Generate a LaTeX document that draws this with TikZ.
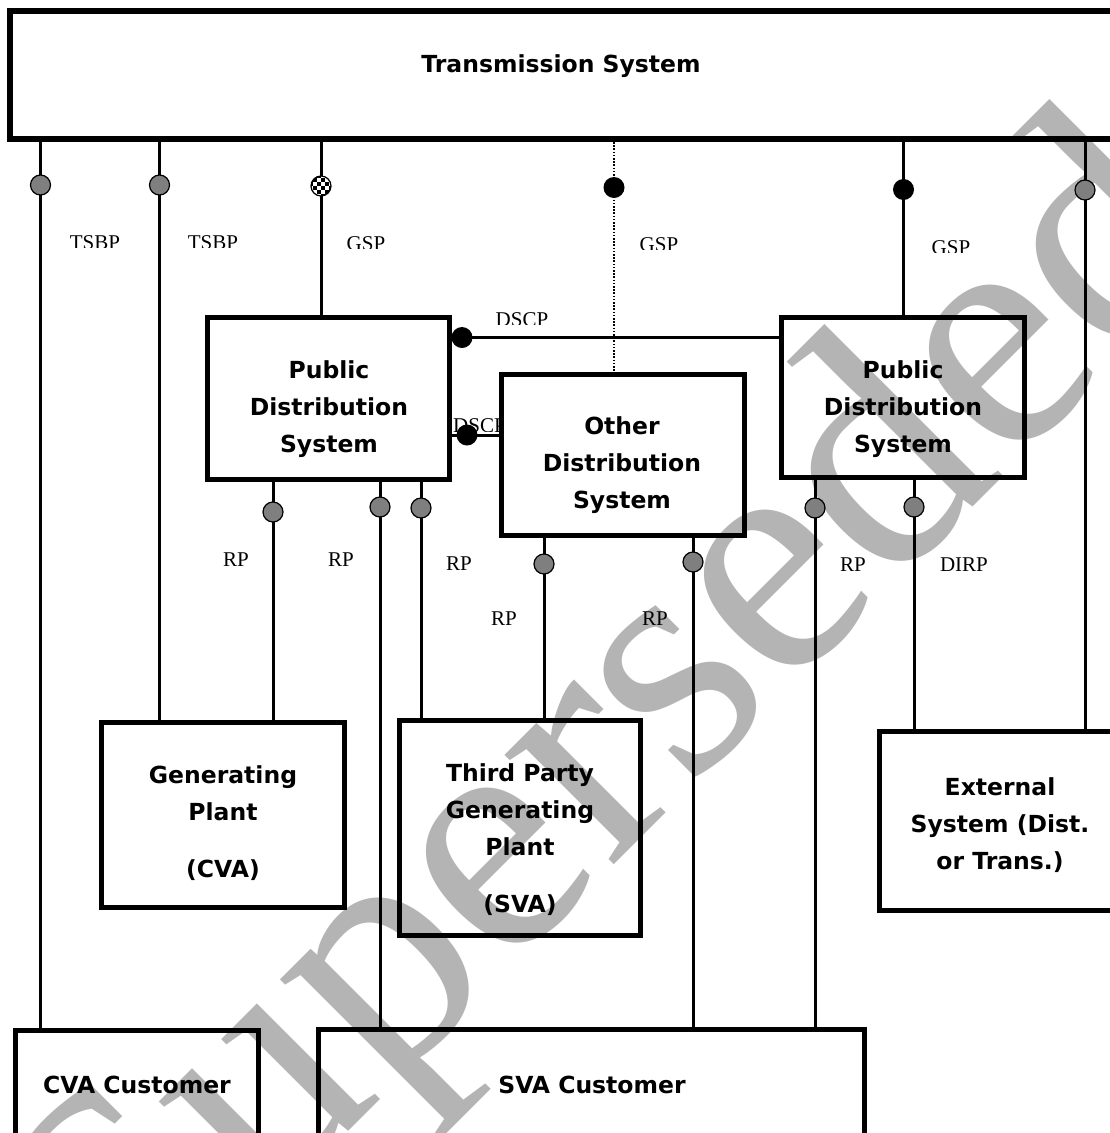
\documentclass[tikz,border=0pt]{standalone}
\usepackage{fontspec}
\setmainfont{Liberation Serif}
\newfontfamily\boxfont{DejaVu Sans}
\definecolor{wmgray}{HTML}{B4B4B4}
\definecolor{dotgray}{HTML}{7F7F7F}
\tikzset{
  box/.style 2 args={draw, line width=5pt, minimum width=#1, minimum height=#2, inner sep=0pt},
  btxt/.style={font=\boxfont\bfseries\fontsize{23.5}{37}\selectfont, align=center, inner sep=0pt},
  lbl/.style={font=\fontsize{21}{21}\selectfont, inner sep=0pt},
  conn/.style={line width=3pt},
  dotconn/.style={line width=1.6pt, dash pattern=on 1.6pt off 1.6pt},
  gdot/.style={circle, draw, line width=1.2pt, fill=dotgray, minimum size=20pt, inner sep=0pt},
  bdot/.style={circle, fill=black, minimum size=21pt, inner sep=0pt},
}
\newcommand\cutlbl[4]{%
  \begin{scope}
    \clip ({#3-45},{#4-6}) rectangle ({#3+45},{#4+12});
    \node[lbl, anchor=north] (#1) at (#3,#4) {#2};
  \end{scope}}
\begin{document}
\begin{tikzpicture}[x=1pt,y=-1pt]
\useasboundingbox (0,0) rectangle (1109,1133);
% watermark
\node[text=wmgray, rotate=45, font=\fontsize{337}{337}\selectfont, inner sep=0pt] (wm) at (625,740) {Superseded};

% boxes
\node[box={1112pt}{128pt}, line width=6pt] (ts) at (566,75) {};
\node[box={242pt}{162pt}] (pdsL) at (328.5,398.5) {};
\node[box={243pt}{160pt}] (pdsR) at (903,397.5) {};
\node[box={243pt}{161.5pt}] (ods) at (622.5,454.75) {};
\node[box={243pt}{185pt}] (gen) at (223,814.5) {};
\node[box={241pt}{215pt}] (tpg) at (520,828) {};
\node[box={246pt}{179pt}] (ext) at (1002,820.5) {};
\node[box={243pt}{119.5pt}] (cvac) at (137,1090.25) {};
\node[box={546pt}{120.5pt}] (svac) at (591.5,1089.75) {};

% box texts
\node[btxt] (tsT) at (561,66) {Transmission System};
\node[btxt] (pdsLT) at (329,409) {Public\\Distribution\\System};
\node[btxt] (pdsRT) at (903,409) {Public\\Distribution\\System};
\node[btxt] (odsT) at (622,465) {Other\\Distribution\\System};
\node[btxt] (genT) at (223,823) {Generating\\Plant\\[20pt](CVA)};
\node[btxt] (tpgT) at (520,840) {Third Party\\Generating\\Plant\\[20pt](SVA)};
\node[btxt] (extT) at (1000,825) {External\\System (Dist.\\or Trans.)};
\node[btxt] (cvacT) at (137,1085) {CVA Customer};
\node[btxt] (svacT) at (592,1084.5) {SVA Customer};

% connection points
\coordinate (p1) at (40.5,185);
\coordinate (p2) at (159.5,185);
\coordinate (p3) at (321,186);
\coordinate (p4) at (614,187.5);
\coordinate (p5) at (903.5,189.5);
\coordinate (p6) at (1085,190);
\coordinate (q1) at (273,512);
\coordinate (q2) at (380,507);
\coordinate (q3) at (421,508);
\coordinate (q4) at (544,564);
\coordinate (q5) at (693,562);
\coordinate (q6) at (815,508);
\coordinate (q7) at (914,507);
\coordinate (h1) at (462,337.5);
\coordinate (h2) at (467,435);

% connectors
\draw[conn] (ts.south -| p1) -- (cvac.north -| p1);
\draw[conn] (ts.south -| p2) -- (gen.north -| p2);
\draw[conn] (ts.south -| p3) -- (pdsL.north -| p3);
\draw[dotconn] (ts.south -| p4) -- (ods.north -| p4);
\draw[conn] (ts.south -| p5) -- (pdsR.north -| p5);
\draw[conn] (ts.south -| p6) -- (ext.north -| p6);
\draw[conn] (pdsL.south -| q1) -- (gen.north -| q1);
\draw[conn] (pdsL.south -| q2) -- (svac.north -| q2);
\draw[conn] (pdsL.south -| q3) -- (tpg.north -| q3);
\draw[conn] (ods.south -| q4) -- (tpg.north -| q4);
\draw[conn] (ods.south -| q5) -- (svac.north -| q5);
\draw[conn] (pdsR.south -| q6) -- (svac.north -| q6);
\draw[conn] (pdsR.south -| q7) -- (ext.north -| q7);
\draw[conn] (pdsL.east |- h1) -- (pdsR.west |- h1);
\draw[conn] (pdsL.east |- h2) -- (ods.west |- h2);

% dots
\node[gdot] (d1) at (p1) {};
\node[gdot] (d2) at (p2) {};
\begin{scope}
  \clip (p3) circle (10);
  \fill[white] (p3) circle (10);
  \foreach \i in {-3,...,2}{\foreach \j in {-3,...,2}{
    \pgfmathtruncatemacro\s{mod(\i+\j+10,2)}
    \ifnum\s=0 \fill[black] (p3) ++(\i*4,\j*4) rectangle ++(4,4); \fi}}
\end{scope}
\node[circle, draw, line width=1.2pt, minimum size=20pt, inner sep=0pt] (d3) at (p3) {};
\node[bdot] (d4) at (p4) {};
\node[bdot] (d5) at (p5) {};
\node[gdot] (d6) at (p6) {};
\node[gdot] (e1) at (q1) {};
\node[gdot] (e2) at (q2) {};
\node[gdot] (e3) at (q3) {};
\node[gdot] (e4) at (q4) {};
\node[gdot] (e5) at (q5) {};
\node[gdot] (e6) at (q6) {};
\node[gdot] (e7) at (q7) {};
\node[bdot] (f1) at (h1) {};
\node[bdot] (f2) at (h2) {};

% labels
\cutlbl{l1}{TSBP}{95}{235}
\cutlbl{l2}{TSBP}{213}{235}
\cutlbl{l3}{GSP}{366}{236}
\cutlbl{l4}{GSP}{659}{237}
\cutlbl{l5}{GSP}{951}{240}
\cutlbl{l6}{DSCP}{522}{312}
\begin{scope}
  \clip (440,410) rectangle (498.5,431);
  \node[lbl, anchor=north west] (l7) at (453,418) {DSCP};
\end{scope}
\cutlbl{l8}{RP}{236}{553}
\cutlbl{l9}{RP}{341}{553}
\cutlbl{l10}{RP}{459}{557}
\cutlbl{l11}{RP}{504}{612}
\cutlbl{l12}{RP}{655}{612}
\cutlbl{l13}{RP}{853}{558}
\cutlbl{l14}{DIRP}{964}{558}
\end{tikzpicture}
\end{document}
